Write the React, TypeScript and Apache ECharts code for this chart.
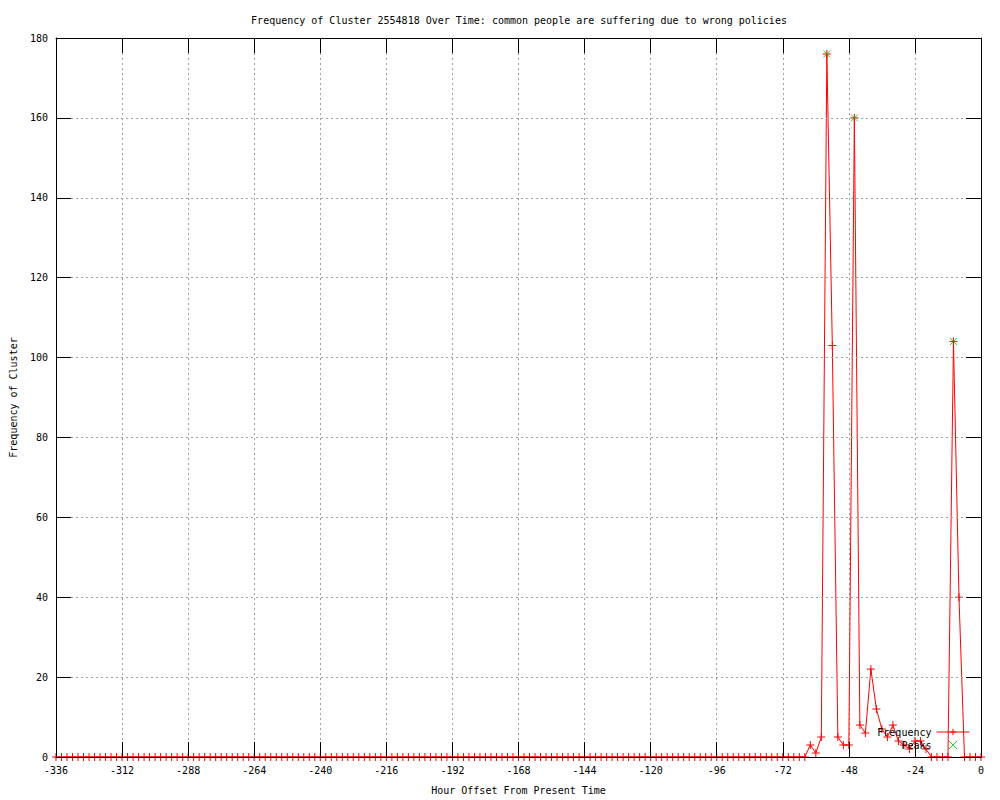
import React, { useEffect, useRef } from "react";
import * as echarts from "echarts";

const TITLE = "Frequency of Cluster 2554818 Over Time: common people are suffering due to wrong policies";
const X_LABEL = "Hour Offset From Present Time";
const Y_LABEL = "Frequency of Cluster";

// sampled every 2 hours, from -336 to 0
const HOUR_START = -336;
const HOUR_STEP = 2;
const frequency: number[] = [
  // -336 .. -266
  0, 0, 0, 0, 0, 0, 0, 0, 0, 0, 0, 0, 0, 0, 0, 0, 0, 0, 0, 0, 0, 0, 0, 0, 0, 0, 0, 0, 0, 0, 0, 0, 0, 0, 0, 0,
  // -264 .. -194
  0, 0, 0, 0, 0, 0, 0, 0, 0, 0, 0, 0, 0, 0, 0, 0, 0, 0, 0, 0, 0, 0, 0, 0, 0, 0, 0, 0, 0, 0, 0, 0, 0, 0, 0, 0,
  // -192 .. -122
  0, 0, 0, 0, 0, 0, 0, 0, 0, 0, 0, 0, 0, 0, 0, 0, 0, 0, 0, 0, 0, 0, 0, 0, 0, 0, 0, 0, 0, 0, 0, 0, 0, 0, 0, 0,
  // -120 .. -64
  0, 0, 0, 0, 0, 0, 0, 0, 0, 0, 0, 0, 0, 0, 0, 0, 0, 0, 0, 0, 0, 0, 0, 0, 0, 0, 0, 0, 0,
  // -62 .. 0
  3, 1, 5, 176, 103, 5, 3, 3, 160, 8, 6, 22, 12, 7, 5, 8, 4, 3, 2, 4, 4, 2, 0, 0, 0, 0, 104, 40, 0, 0, 0, 0,
];

const peakHours = [-56, -46, -10];
const peakValues = [176, 160, 104];

const X_MIN = -336;
const X_MAX = 0;
const X_INTERVAL = 24;
const Y_MIN = 0;
const Y_MAX = 180;
const Y_INTERVAL = 20;

const FONT = "DejaVu Sans Mono";
const PLUS = "path://M0,4L8,4M4,0L4,8";
const CROSS = "path://M0,0L8,8M8,0L0,8";

export default function App() {
  const ref = useRef<HTMLDivElement>(null);
  useEffect(() => {
    if (!ref.current) return;
    const chart = echarts.init(ref.current, null, { renderer: "svg" });
    const freqData = frequency.map((v, i) => [HOUR_START + i * HOUR_STEP, v]);
    const peakData = peakHours.map((h, i) => [h, peakValues[i]]);
    const baseX = { type: "value" as const, min: X_MIN, max: X_MAX, interval: X_INTERVAL };
    const baseY = { type: "value" as const, min: Y_MIN, max: Y_MAX, interval: Y_INTERVAL };
    const frame = {
      axisLine: { show: true, onZero: false, lineStyle: { color: "#000", width: 1 } },
      axisTick: { show: true, inside: true, length: 15, lineStyle: { color: "#000" } },
    };
    chart.setOption({
      animation: false,
      backgroundColor: "#ffffff",
      textStyle: { fontFamily: FONT },
      title: {
        text: TITLE,
        left: 514,
        top: 10,
        textAlign: "center",
        textStyle: { fontFamily: FONT, fontSize: 10, fontWeight: "normal", color: "#000" },
      },
      grid: { left: 56, right: 19, top: 38, bottom: 40 },
      legend: {
        orient: "vertical",
        right: 30,
        top: 727,
        padding: 0,
        align: "right",
        itemWidth: 33,
        itemHeight: 8,
        itemGap: 3,
        lineStyle: { width: 1 },
        itemStyle: { borderWidth: 1 },
        textStyle: { fontFamily: FONT, fontSize: 10, color: "#000" },
        data: ["Frequency", "Peaks"],
      },
      xAxis: [
        {
          ...baseX,
          position: "bottom",
          name: X_LABEL,
          nameLocation: "middle",
          nameGap: 28,
          nameTextStyle: { fontFamily: FONT, fontSize: 10, color: "#000" },
          axisLine: { show: false },
          axisTick: { show: false },
          axisLabel: { margin: 8, fontFamily: FONT, fontSize: 10, color: "#000" },
          splitLine: { show: true, lineStyle: { color: "#a0a0a0", type: [2, 3], width: 1 } },
        },
        { ...baseX, position: "bottom", z: 10, ...frame, axisLabel: { show: false }, splitLine: { show: false } },
        { ...baseX, position: "top", z: 10, ...frame, axisLabel: { show: false }, splitLine: { show: false } },
      ],
      yAxis: [
        {
          ...baseY,
          position: "left",
          name: Y_LABEL,
          nameLocation: "middle",
          nameGap: 38,
          nameRotate: 90,
          nameTextStyle: { fontFamily: FONT, fontSize: 10, color: "#000" },
          z: 10,
          ...frame,
          axisLabel: { margin: 8, fontFamily: FONT, fontSize: 10, color: "#000" },
          splitLine: { show: true, lineStyle: { color: "#a0a0a0", type: [2, 3], width: 1 } },
        },
        { ...baseY, position: "right", z: 10, ...frame, axisLabel: { show: false }, splitLine: { show: false } },
      ],
      series: [
        {
          name: "Frequency",
          type: "line",
          xAxisIndex: 0,
          yAxisIndex: 0,
          data: freqData,
          symbol: PLUS,
          symbolSize: 8,
          showSymbol: true,
          showAllSymbol: true,
          lineStyle: { color: "#ff0000", width: 1 },
          itemStyle: { color: "#ff0000", borderColor: "#ff0000", borderWidth: 1 },
          emphasis: { disabled: true },
          z: 3,
        },
        {
          name: "Peaks",
          type: "scatter",
          xAxisIndex: 0,
          yAxisIndex: 0,
          data: peakData,
          symbol: CROSS,
          symbolSize: 7,
          itemStyle: { color: "#00c000", borderColor: "#00c000", borderWidth: 1 },
          emphasis: { disabled: true },
          z: 4,
        },
      ],
    });
    return () => chart.dispose();
  }, []);
  return (
    <div
      ref={ref}
      style={{ position: "fixed", left: 0, top: 0, width: 1000, height: 800, background: "#fff" }}
    />
  );
}
